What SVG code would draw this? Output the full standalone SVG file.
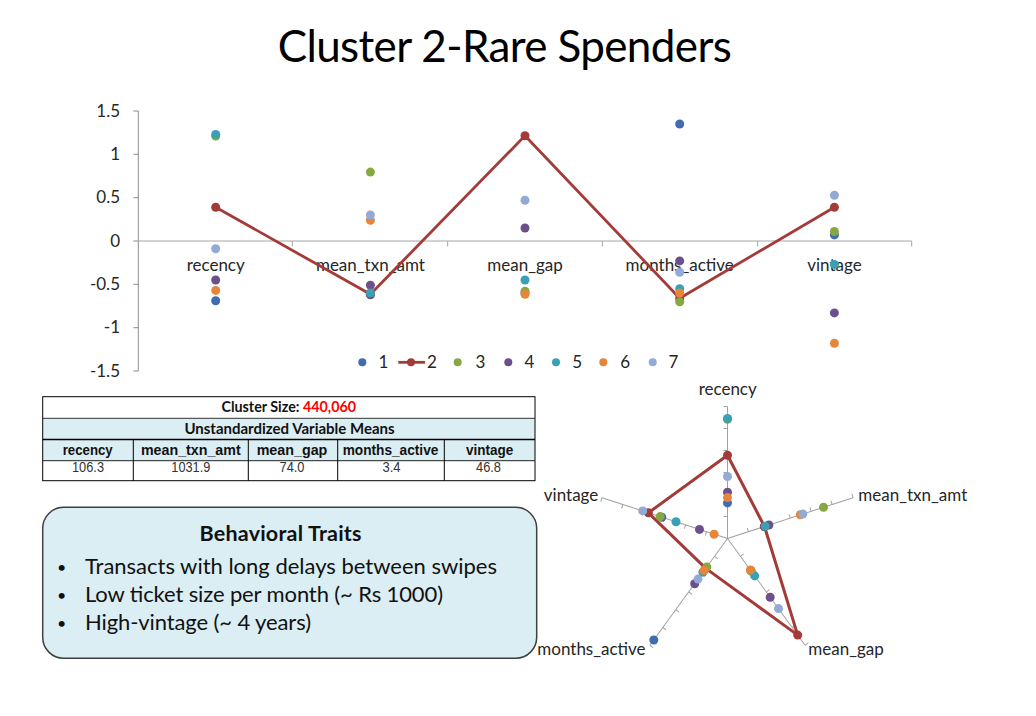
<svg xmlns="http://www.w3.org/2000/svg" xmlns:xlink="http://www.w3.org/1999/xlink" width="1036" height="716" viewBox="0 0 1036 716">
<style>
  text { font-family: 'Lato', 'Open Sans', sans-serif; fill: #262626; }
  .tick { font-size: 17px; text-anchor: end; }
  .cat { font-size: 17px; text-anchor: middle; }
  .leg { font-size: 17px; }
  .axis { stroke: #A0A0A0; stroke-width: 1; fill: none; }
  .s1 { fill: #3F6DAE; }
  .s2 { fill: #A33B38; }
  .s3 { fill: #86A843; }
  .s4 { fill: #6B508B; }
  .s5 { fill: #39A0B5; }
  .s6 { fill: #E7863A; }
  .s7 { fill: #93AAD6; }
  .redline { stroke: #A33B38; stroke-width: 2.8; fill: none; stroke-linejoin: round; }
  .tb { font-family: 'Liberation Sans', Arial, sans-serif; font-size: 15px; text-anchor: middle; }
  .tbh { font-weight: bold; fill: #111; }
  .tbv { fill: #333; font-size: 15.5px; }
  .tcap { font-weight: bold; text-anchor: middle; fill: #111; }
  .bul { font-size: 22px; fill: #111; }
  .dot { font-size: 16px; fill: #111; }
</style>
<defs>
  <g id="radarAxis">
    <line class="axis" x1="727.5" y1="538.5" x2="727.5" y2="406.5"/>
    <path class="axis" d="M727.5 516.5h-4M727.5 494.5h-4M727.5 472.5h-4M727.5 450.5h-4M727.5 428.5h-4M727.5 406.5h-4"/>
  </g>
</defs>
<rect width="1036" height="716" fill="#FFFFFF"/>

<g id="title">
  <text x="504.7" y="61.7" font-size="44" text-anchor="middle" textLength="454" style="fill:#000">Cluster 2-Rare Spenders</text>
</g>

<g id="line-chart">
  <g id="line-axes">
    <line class="axis" x1="138.3" y1="111" x2="138.3" y2="371" style="stroke:#8C8C8C"/>
    <path class="axis" style="stroke:#8C8C8C" d="M133.5 111h4.8M133.5 154.3h4.8M133.5 197.7h4.8M133.5 241h4.8M133.5 284.3h4.8M133.5 327.7h4.8M133.5 371h4.8"/>
    <line class="axis" x1="138.3" y1="241" x2="911.7" y2="241" style="stroke:#A6A6A6"/>
    <path class="axis" style="stroke:#A6A6A6" d="M292.3 241v5.5M447.7 241v5.5M602.3 241v5.5M757.7 241v5.5M911.7 241v5.5"/>
  </g>
  <g id="y-labels">
    <text class="tick" x="120" y="116.7">1.5</text>
    <text class="tick" x="120" y="160">1</text>
    <text class="tick" x="120" y="203.4">0.5</text>
    <text class="tick" x="120" y="246.7">0</text>
    <text class="tick" x="120" y="290">-0.5</text>
    <text class="tick" x="120" y="333.4">-1</text>
    <text class="tick" x="120" y="376.7">-1.5</text>
  </g>
  <g id="category-labels">
    <text class="cat" x="215.7" y="271">recency</text>
    <text class="cat" x="370.4" y="271">mean_txn_amt</text>
    <text class="cat" x="525" y="271">mean_gap</text>
    <text class="cat" x="679.7" y="271">months_active</text>
    <text class="cat" x="834.4" y="271">vintage</text>
  </g>
  <g id="series-1" class="s1">
    <circle cx="215.7" cy="300.8" r="4.5"/><circle cx="370.4" cy="294.7" r="4.5"/><circle cx="525" cy="293" r="4.5"/><circle cx="679.7" cy="124" r="4.5"/><circle cx="834.4" cy="234.9" r="4.5"/>
  </g>
  <g id="series-2">
    <polyline class="redline" points="215.7,207.2 370.4,294.3 525,135.7 679.7,298.2 834.4,207.2"/>
    <g class="s2"><circle cx="215.7" cy="207.2" r="4.5"/><circle cx="370.4" cy="294.3" r="4.5"/><circle cx="525" cy="135.7" r="4.5"/><circle cx="679.7" cy="298.2" r="4.5"/><circle cx="834.4" cy="207.2" r="4.5"/></g>
  </g>
  <g id="series-3" class="s3">
    <circle cx="215.7" cy="136.1" r="4.5"/><circle cx="370.4" cy="172.1" r="4.5"/><circle cx="525" cy="291.3" r="4.5"/><circle cx="679.7" cy="301.7" r="4.5"/><circle cx="834.4" cy="231.5" r="4.5"/>
  </g>
  <g id="series-4" class="s4">
    <circle cx="215.7" cy="280" r="4.5"/><circle cx="370.4" cy="285.2" r="4.5"/><circle cx="525" cy="228" r="4.5"/><circle cx="679.7" cy="260.9" r="4.5"/><circle cx="834.4" cy="312.9" r="4.5"/>
  </g>
  <g id="series-5" class="s5">
    <circle cx="215.7" cy="134.4" r="4.5"/><circle cx="370.4" cy="293" r="4.5"/><circle cx="525" cy="280" r="4.5"/><circle cx="679.7" cy="288.7" r="4.5"/><circle cx="834.4" cy="264.4" r="4.5"/>
  </g>
  <g id="series-6" class="s6">
    <circle cx="215.7" cy="290.4" r="4.5"/><circle cx="370.4" cy="220.2" r="4.5"/><circle cx="525" cy="294.3" r="4.5"/><circle cx="679.7" cy="293" r="4.5"/><circle cx="834.4" cy="343.3" r="4.5"/>
  </g>
  <g id="series-7" class="s7">
    <circle cx="215.7" cy="248.8" r="4.5"/><circle cx="370.4" cy="215" r="4.5"/><circle cx="525" cy="200.3" r="4.5"/><circle cx="679.7" cy="272.2" r="4.5"/><circle cx="834.4" cy="195.3" r="4.5"/>
  </g>
  <g id="legend">
    <circle class="s1" cx="362.3" cy="362.3" r="4"/><text class="leg" x="378.5" y="368">1</text>
    <line x1="398.3" y1="362.3" x2="425" y2="362.3" class="redline"/><circle class="s2" cx="411" cy="362.3" r="4"/><text class="leg" x="427" y="368">2</text>
    <circle class="s3" cx="457.7" cy="362.3" r="4"/><text class="leg" x="475.5" y="368">3</text>
    <circle class="s4" cx="508.3" cy="362.3" r="4"/><text class="leg" x="524.5" y="368">4</text>
    <circle class="s5" cx="556" cy="362.3" r="4"/><text class="leg" x="572.3" y="368">5</text>
    <circle class="s6" cx="603.3" cy="362.3" r="4"/><text class="leg" x="620.3" y="368">6</text>
    <circle class="s7" cx="652.7" cy="362.3" r="4"/><text class="leg" x="668.5" y="368">7</text>
  </g>
</g>

<g id="means-table">
  <rect x="42.7" y="418.3" width="492.3" height="42.4" fill="#DBEEF3"/>
  <rect x="42.7" y="396.7" width="492.3" height="84" fill="none" stroke="#000" stroke-width="1"/>
  <line x1="42.7" y1="418.3" x2="535" y2="418.3" stroke="#333" stroke-width="1"/>
  <line x1="42.7" y1="439.5" x2="535" y2="439.5" stroke="#000" stroke-width="1.6"/>
  <line x1="42.7" y1="460.7" x2="535" y2="460.7" stroke="#222" stroke-width="1"/>
  <path d="M133.3 439.5V480.7M248.3 439.5V480.7M337.7 439.5V480.7M444.3 439.5V480.7" stroke="#000" stroke-width="1" fill="none"/>
  <text class="tcap" x="288.8" y="411.7" font-size="14.3">Cluster Size: <tspan style="fill:#FF0000">440,060</tspan></text>
  <text class="tcap" x="289.5" y="434" font-size="15">Unstandardized Variable Means</text>
  <text class="tb tbh" x="87.7" y="455" textLength="50" lengthAdjust="spacingAndGlyphs">recency</text>
  <text class="tb tbh" x="190.8" y="455" textLength="99.7" lengthAdjust="spacingAndGlyphs">mean_txn_amt</text>
  <text class="tb tbh" x="292" y="455" textLength="70.7" lengthAdjust="spacingAndGlyphs">mean_gap</text>
  <text class="tb tbh" x="390.5" y="455" textLength="95.7" lengthAdjust="spacingAndGlyphs">months_active</text>
  <text class="tb tbh" x="489.7" y="455" textLength="47.3" lengthAdjust="spacingAndGlyphs">vintage</text>
  <text class="tb tbv" x="88" y="472" textLength="32" lengthAdjust="spacingAndGlyphs">106.3</text>
  <text class="tb tbv" x="190.8" y="472" textLength="39" lengthAdjust="spacingAndGlyphs">1031.9</text>
  <text class="tb tbv" x="292" y="472" textLength="25" lengthAdjust="spacingAndGlyphs">74.0</text>
  <text class="tb tbv" x="391.5" y="472" textLength="18" lengthAdjust="spacingAndGlyphs">3.4</text>
  <text class="tb tbv" x="488.5" y="472" textLength="25" lengthAdjust="spacingAndGlyphs">46.8</text>
</g>

<g id="behavioral-traits">
  <rect x="42.7" y="507.3" width="494" height="151" rx="21" ry="21" fill="#DAEEF3" stroke="#404040" stroke-width="1.5"/>
  <text x="280.5" y="540.7" font-size="21.5" font-weight="bold" text-anchor="middle" textLength="162" style="fill:#111">Behavioral Traits</text>
  <text class="dot" x="57" y="572.5">•</text>
  <text class="bul" x="85" y="573.5" textLength="412">Transacts with long delays between swipes</text>
  <text class="dot" x="57" y="600.5">•</text>
  <text class="bul" x="85" y="601.5" textLength="358">Low ticket size per month (~ Rs 1000)</text>
  <text class="dot" x="57" y="628.5">•</text>
  <text class="bul" x="85" y="629.5" textLength="226">High-vintage (~ 4 years)</text>
</g>

<g id="radar-chart">
  <g id="radar-axes">
    <use xlink:href="#radarAxis"/>
    <use xlink:href="#radarAxis" transform="rotate(72 727.5 538.5)"/>
    <use xlink:href="#radarAxis" transform="rotate(144 727.5 538.5)"/>
    <use xlink:href="#radarAxis" transform="rotate(216 727.5 538.5)"/>
    <use xlink:href="#radarAxis" transform="rotate(288 727.5 538.5)"/>
  </g>
  <g id="radar-labels">
    <text class="cat" x="727.7" y="395">recency</text>
    <text class="leg" x="858.3" y="500.5">mean_txn_amt</text>
    <text class="leg" x="598.3" y="500.5" text-anchor="end">vintage</text>
    <text class="leg" x="537.3" y="654.5">months_active</text>
    <text class="leg" x="808.3" y="654.5">mean_gap</text>
  </g>
  <g id="radar-series-1" class="s1">
    <circle cx="727.5" cy="502.9" r="4.5"/><circle cx="764.3" cy="526.5" r="4.5"/><circle cx="750.8" cy="570.5" r="4.5"/><circle cx="653.8" cy="640" r="4.5"/><circle cx="661.8" cy="517.2" r="4.5"/>
  </g>
  <g id="radar-series-2">
    <polygon class="redline" style="stroke-width:3" points="727.5,455.3 764.5,526.5 797.7,635.1 705.8,568.4 648.4,512.8"/>
    <g class="s2"><circle cx="727.5" cy="455.3" r="4.5"/><circle cx="764.5" cy="526.5" r="4.5"/><circle cx="797.7" cy="635.1" r="4.5"/><circle cx="705.8" cy="568.4" r="4.5"/><circle cx="648.4" cy="512.8" r="4.5"/></g>
  </g>
  <g id="radar-series-3" class="s3">
    <circle cx="727.5" cy="419.3" r="4.5"/><circle cx="823.5" cy="507.3" r="4.5"/><circle cx="751.3" cy="571.3" r="4.5"/><circle cx="706.8" cy="567" r="4.5"/><circle cx="660.1" cy="516.6" r="4.5"/>
  </g>
  <g id="radar-series-4" class="s4">
    <circle cx="727.5" cy="492.3" r="4.5"/><circle cx="768.9" cy="525" r="4.5"/><circle cx="770.2" cy="597.2" r="4.5"/><circle cx="694.7" cy="583.7" r="4.5"/><circle cx="699.5" cy="529.4" r="4.5"/>
  </g>
  <g id="radar-series-5" class="s5">
    <circle cx="727.5" cy="418.4" r="4.5"/><circle cx="765.2" cy="526.3" r="4.5"/><circle cx="754.7" cy="575.9" r="4.5"/><circle cx="702.9" cy="572.3" r="4.5"/><circle cx="676" cy="521.8" r="4.5"/>
  </g>
  <g id="radar-series-6" class="s6">
    <circle cx="727.5" cy="497.6" r="4.5"/><circle cx="800.3" cy="514.8" r="4.5"/><circle cx="750.4" cy="570" r="4.5"/><circle cx="704.2" cy="570.5" r="4.5"/><circle cx="714.1" cy="534.2" r="4.5"/>
  </g>
  <g id="radar-series-7" class="s7">
    <circle cx="727.5" cy="476.5" r="4.5"/><circle cx="802.8" cy="514" r="4.5"/><circle cx="778.5" cy="608.6" r="4.5"/><circle cx="698" cy="579.1" r="4.5"/><circle cx="642.7" cy="510.9" r="4.5"/>
  </g>
</g>
</svg>
